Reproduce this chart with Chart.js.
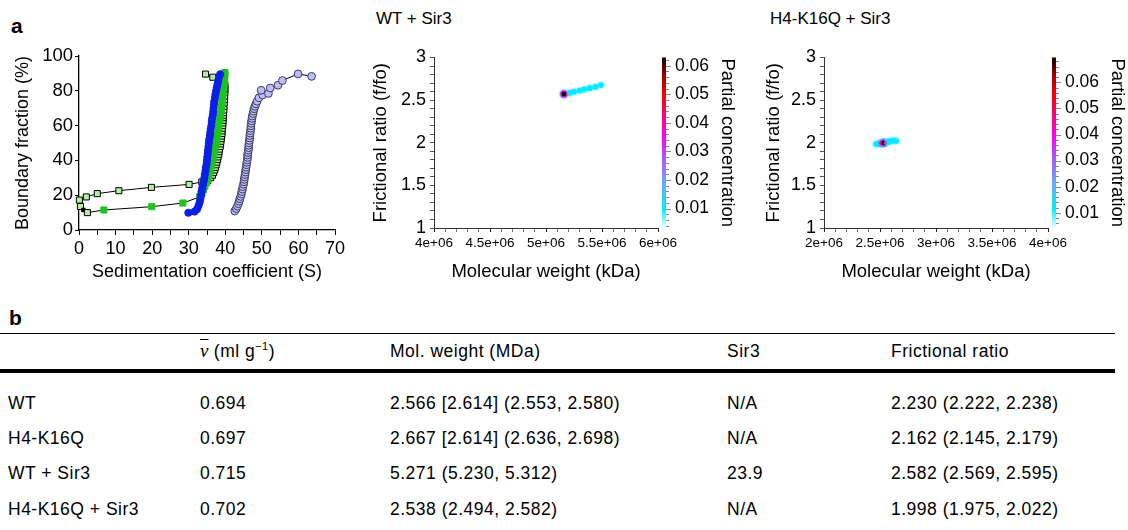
<!DOCTYPE html>
<html>
<head>
<meta charset="utf-8">
<script src="https://cdn.jsdelivr.net/npm/chart.js@4.4.1/dist/chart.umd.min.js"></script>
<style>
  html, body { margin: 0; padding: 0; background: #fff; }
  body { width: 1128px; height: 530px; position: relative; overflow: hidden;
         font-family: "Liberation Sans", Arial, sans-serif; color: #000; }
  .abs { position: absolute; white-space: nowrap; }
  canvas { position: absolute; }
  .panel { font-weight: bold; font-size: 21px; line-height: 24px; }
  .ptitle { font-size: 17px; line-height: 20px; }
  .cell { font-size: 17.5px; letter-spacing: 0.5px; line-height: 20px; }
  .vbar { font-family: "Liberation Serif", serif; font-style: italic; text-decoration: overline; font-size: 19px; letter-spacing: 0; }
  sup { font-size: 11px; line-height: 0; }
  .rule { position: absolute; left: 0; width: 1115px; background: #000; }
</style>
</head>
<body>
<div class="abs panel" style="left:11px;top:14px">a</div>
<div class="abs ptitle" style="left:376px;top:9px">WT + Sir3</div>
<div class="abs ptitle" style="left:770px;top:9px">H4-K16Q + Sir3</div>
<canvas id="vhs" width="350" height="250" style="left:0;top:40px"></canvas>
<canvas id="wtSir3" width="390" height="260" style="left:360px;top:30px"></canvas>
<canvas id="k16qSir3" width="378" height="260" style="left:750px;top:30px"></canvas>
<div class="abs panel" style="left:9px;top:306px">b</div>
<div class="rule" style="top:333px;height:1px"></div>
<div class="rule" style="top:369px;height:4px"></div>
<div id="table"></div>
<script>
// ---- panel a, van Holde-Weischet plot: sedimentation coefficient (S) vs boundary fraction (%)
const blueS = [29.9, 31.6, 32.3, 32.7, 33.0, 33.2, 33.4, 33.5, 33.7, 33.9, 34.1, 34.3, 34.4, 34.6, 34.7, 34.9, 35.0, 35.1, 35.2, 35.3, 35.4, 35.5, 35.6, 35.8, 35.9, 36.0, 36.2, 36.3, 36.4, 36.6, 36.7, 36.8, 36.9, 37.0, 37.2, 37.3, 37.5, 37.7, 37.9, 38.1, 38.3, 38.6];
const blueF = [9.9, 10.6, 12, 14, 16, 18, 20, 22, 24, 26, 28, 30, 32, 34, 36, 38, 40, 42, 44, 46, 48, 50, 52, 54, 56, 58, 60, 62, 64, 66, 68, 70, 72, 74, 76, 78, 80, 82, 84, 86, 88, 89.5];

const greenS = [0.4, 1.2, 2.3, 6.8, 19.9, 28.4, 33.0, 33.6, 34.0, 34.4, 34.8, 35.1, 35.4, 35.7, 35.9, 36.2, 36.4, 36.6, 36.8, 37.0, 37.2, 37.4, 37.6, 37.7, 37.9, 38.0, 38.2, 38.3, 38.5, 38.6, 38.7, 38.9, 39.0, 39.1, 39.2, 39.3, 39.4, 39.5, 39.6, 39.7, 39.8, 39.9, 39.9];
const greenF = [13.5, 11.5, 10.0, 11.5, 13.4, 15.5, 19.0, 21, 23, 25, 27, 29, 31, 33, 35, 37, 39, 41, 43, 45, 47, 49, 51, 53, 55, 57, 59, 61, 63, 65, 67, 69, 71, 73, 75, 77, 79, 81, 83, 85, 87, 89, 90.5];

const openS = [0.1, 2.0, 5.0, 10.9, 19.8, 30.1, 33.6, 35.2, 36.0, 36.5, 36.8, 37.1, 37.3, 37.5, 37.7, 37.9, 38.0, 38.2, 38.3, 38.4, 38.6, 38.7, 38.8, 38.9, 39.0, 39.1, 39.1, 39.2, 39.3, 39.3, 39.4, 39.4, 39.5, 39.5, 39.6, 39.6, 39.7, 39.8, 39.8, 39.9, 39.9, 39.9, 39.8, 39.5, 38.5, 36.6, 34.6];
const openF = [17.2, 19.0, 20.9, 22.6, 24.5, 26.2, 27.6, 28.5, 30, 31.5, 33, 34.5, 36, 37.5, 39, 40.5, 42, 43.5, 45, 46.5, 48, 49.5, 51, 52.5, 54, 55.5, 57, 58.5, 60, 61.5, 63, 64.5, 66, 67.5, 69, 71, 73, 75, 77, 79, 81, 83, 85, 86.5, 87.5, 87.8, 89.6];

const lavS = [42.6, 43.0, 43.3, 43.6, 43.8, 44.0, 44.2, 44.4, 44.5, 44.7, 44.8, 45.0, 45.1, 45.2, 45.3, 45.4, 45.5, 45.6, 45.7, 45.8, 45.9, 46.0, 46.1, 46.1, 46.2, 46.3, 46.4, 46.4, 46.5, 46.6, 46.7, 46.7, 46.8, 46.9, 47.0, 47.0, 47.1, 47.2, 47.3, 47.4, 47.6, 47.7, 47.9, 48.1, 48.4, 48.7, 49.2, 50.2, 49.8, 51.8, 52.3, 54.4, 55.6, 59.9, 63.6];
const lavF = [10.9, 12.3, 13.7, 15.1, 16.5, 17.9, 19.3, 20.7, 22.1, 23.5, 24.9, 26.3, 27.7, 29.1, 30.5, 31.9, 33.3, 34.7, 36.1, 37.5, 38.9, 40.3, 41.7, 43.1, 44.5, 45.9, 47.3, 48.7, 50.1, 51.5, 52.9, 54.3, 55.7, 57.1, 58.5, 59.9, 61.3, 62.7, 64.1, 65.5, 66.9, 68.3, 69.7, 71.1, 72.5, 74.0, 76.0, 77.6, 80.3, 78.5, 81.6, 83.2, 85.9, 89.7, 88.3];

// ---- panel a, 2DSA distributions: molecular weight, frictional ratio, partial concentration
const wtSir3Mw = [5.16e6, 5.21e6, 5.25e6, 5.30e6, 5.34e6, 5.39e6, 5.44e6, 5.49e6];
const wtSir3Ff0 = [2.571, 2.585, 2.598, 2.612, 2.625, 2.640, 2.655, 2.676];
const wtSir3Conc = [0.0629, 0.011, 0.010, 0.011, 0.010, 0.011, 0.010, 0.011];

const k16qSir3Mw = [2.465e6, 2.49e6, 2.51e6, 2.53e6, 2.55e6, 2.575e6, 2.60e6, 2.625e6, 2.645e6];
const k16qSir3Ff0 = [1.985, 1.988, 1.995, 1.998, 2.000, 2.012, 2.022, 2.025, 2.020];
const k16qSir3Conc = [0.009, 0.020, 0.045, 0.0695, 0.030, 0.014, 0.011, 0.010, 0.009];

// ---- panel b, table
const tableHeaders = ['', 'VBAR', 'Mol. weight (MDa)', 'Sir3', 'Frictional ratio'];
const samples = ['WT', 'H4-K16Q', 'WT + Sir3', 'H4-K16Q + Sir3'];
const vbar = ['0.694', '0.697', '0.715', '0.702'];
const molWeight = ['2.566 [2.614] (2.553, 2.580)', '2.667 [2.614] (2.636, 2.698)', '5.271 (5.230, 5.312)', '2.538 (2.494, 2.582)'];
const sir3 = ['N/A', 'N/A', '23.9', 'N/A'];
const fricRatio = ['2.230 (2.222, 2.238)', '2.162 (2.145, 2.179)', '2.582 (2.569, 2.595)', '1.998 (1.975, 2.022)'];

Chart.defaults.font.family = '"Liberation Sans", Arial, sans-serif';
Chart.defaults.color = '#000';
Chart.defaults.animation = false;

const xy = (xs, ys) => xs.map((x, i) => ({ x, y: ys[i] }));

const noPlugins = { legend: { display: false }, tooltip: { enabled: false } };

// colour map of the concentration bars, stops are fractions of the bar range
const cmapStops = [[0, '#eaffff'], [0.11, '#00eeff'], [0.28, '#6fa2ff'], [0.42, '#b052ff'], [0.53, '#ff00ff'],
  [0.64, '#ff0090'], [0.78, '#ff0000'], [0.9, '#a00000'], [1, '#000000']];

function hexRgb(h) {
  const n = parseInt(h.slice(1), 16);
  return [(n >> 16) & 255, (n >> 8) & 255, n & 255];
}

function cmap(t) {
  t = Math.max(0, Math.min(1, t));
  for (let i = 1; i < cmapStops.length; i++) {
    const [t1, c1] = cmapStops[i];
    if (t <= t1) {
      const [t0, c0] = cmapStops[i - 1];
      const f = (t - t0) / (t1 - t0);
      const a = hexRgb(c0), b = hexRgb(c1);
      return 'rgb(' + a.map((v, k) => Math.round(v + (b[k] - v) * f)).join(',') + ')';
    }
  }
  return '#000';
}

// gradient strip + small ticks next to the "cb" axis
const colorbarPlugin = {
  id: 'colorbar',
  afterDraw(chart) {
    const s = chart.scales.cb;
    if (!s) return;
    const ctx = chart.ctx;
    const top = s.getPixelForValue(s.max);
    const bottom = s.getPixelForValue(s.min);
    const x0 = chart.chartArea.right + 4;
    const g = ctx.createLinearGradient(0, bottom, 0, top);
    cmapStops.forEach(([t, c]) => g.addColorStop(t, c));
    ctx.save();
    ctx.fillStyle = g;
    ctx.fillRect(x0, top, 4, bottom - top);
    ctx.strokeStyle = '#888';
    ctx.lineWidth = 1;
    for (let k = Math.ceil(s.min / 0.002); k * 0.002 <= s.max; k++) {
      const y = Math.round(s.getPixelForValue(k * 0.002)) + 0.5;
      ctx.beginPath();
      ctx.moveTo(x0 + 4, y);
      ctx.lineTo(x0 + (k % 5 === 0 ? 9 : 7), y);
      ctx.stroke();
    }
    ctx.restore();
  },
};

new Chart(document.getElementById('vhs'), {
  type: 'scatter',
  data: {
    datasets: [
      { data: xy(blueS, blueF), pointStyle: 'circle', pointRadius: 3.6, pointBackgroundColor: '#0b1fe6',
        pointBorderColor: '#0b1fe6', pointBorderWidth: 1, showLine: true, borderColor: '#000', borderWidth: 1 },
      { data: xy(greenS, greenF), pointStyle: 'rect',
        pointBackgroundColor: (c) => (c.dataIndex < 3 && c.dataIndex !== 1 ? '#b4eea6' : c.dataIndex === 1 ? '#000' : '#1ec41e'),
        pointBorderColor: (c) => (c.dataIndex < 3 ? '#000' : '#1ec41e'), pointBorderWidth: 1,
        pointRadius: (c) => (c.dataIndex === 1 ? 2.5 : 4.3),
        showLine: true, borderColor: '#000', borderWidth: 1 },
      { data: xy(openS, openF), pointStyle: 'rect', pointRadius: 4.3, pointBackgroundColor: '#b4eea6',
        pointBorderColor: '#000', pointBorderWidth: 1, showLine: true, borderColor: '#000', borderWidth: 1 },
      { data: xy(lavS, lavF), pointStyle: 'circle', pointRadius: 3.9, pointBackgroundColor: '#bdbdf0',
        pointBorderColor: '#3a3a66', pointBorderWidth: 1, showLine: true, borderColor: '#000', borderWidth: 1 },
    ],
  },
  options: {
    responsive: false,
    clip: false,
    layout: { padding: { left: 0, top: 16, right: 15, bottom: 0 } },
    plugins: noPlugins,
    scales: {
      x: {
        type: 'linear', min: 0, max: 70,
        afterFit: (s) => { s.height = 60; },
        grid: { drawOnChartArea: false, tickLength: 5, color: '#000' },
        border: { color: '#000', width: 1.3 },
        ticks: { stepSize: 5, autoSkip: false, maxRotation: 0, padding: 3, font: { size: 18 },
          callback: (v) => (v % 10 === 0 ? v : '') },
        title: { display: true, text: 'Sedimentation coefficient (S)', font: { size: 18 }, padding: { top: 0, bottom: 7 } },
      },
      y: {
        type: 'linear', min: 0, max: 100,
        afterFit: (s) => { s.width = 79; },
        grid: { drawOnChartArea: false, tickLength: 4, color: '#000' },
        border: { color: '#000', width: 1.3 },
        ticks: { stepSize: 20, autoSkip: false, padding: 2, font: { size: 18.5 } },
        title: { display: true, text: 'Boundary fraction (%)', font: { size: 18 }, padding: { top: 12, bottom: 0 } },
      },
    },
  },
});

function heatMap(id, xs, ys, cs, xMin, xMax, cbMin, cbMax, yTitlePad, cbWidth, cbTitlePad) {
  const pts = xs.map((x, i) => ({ x, y: ys[i], c: cs[i] }));
  const span = cbMax - cbMin;
  const cyan = cbMin + 0.12 * span;
  const ring = (f) => (c) => cmap((Math.max(c.raw.c * f, cyan) - cbMin) / span);
  // radius grows a little with the concentration of the cell
  const size = (base, k) => (c) => base + k * (c.raw.c - cbMin) / span;
  const layer = (radius, color) => ({ data: pts, pointRadius: radius, pointBackgroundColor: color, pointBorderWidth: 0, showLine: false });
  const mwLabel = (v) => {
    const m = v / 1e6;
    return Math.abs(m * 2 - Math.round(m * 2)) < 1e-6 ? +m.toFixed(1) + 'e+06' : '';
  };
  new Chart(document.getElementById(id), {
    type: 'scatter',
    data: {
      datasets: [
        layer(size(1.2, 1), ring(1)),
        layer(size(1.9, 1.6), ring(0.6)),
        layer(size(2.7, 1.6), ring(0.35)),
        layer(size(3.9, 1.6), 'rgba(0,225,255,0.28)'),
      ],
    },
    options: {
      responsive: false,
      clip: false,
      layout: { padding: { left: 0, top: 13, right: 0, bottom: 0 } },
      plugins: noPlugins,
      scales: {
        x: {
          type: 'linear', min: xMin, max: xMax,
          afterFit: (s) => { s.height = 62; },
          grid: { drawOnChartArea: false, tickLength: 4, color: (c) => (mwLabel(c.tick.value) ? '#222' : '#777') },
          border: { color: '#333', width: 1 },
          ticks: { stepSize: 1e5, autoSkip: false, maxRotation: 0, padding: 3, font: { size: 13.5 }, callback: mwLabel },
          title: { display: true, text: 'Molecular weight (kDa)', font: { size: 18.5 }, padding: { top: 0, bottom: 7 } },
        },
        y: {
          type: 'linear', min: 1, max: 3,
          afterFit: (s) => { s.width = 74; },
          grid: { drawOnChartArea: false, tickLength: 4, color: '#555' },
          border: { color: '#333', width: 1 },
          ticks: { stepSize: 0.1, autoSkip: false, padding: 4, font: { size: 18 },
            callback: (v) => (Math.abs(v * 2 - Math.round(v * 2)) < 1e-6 ? +v.toFixed(1) : '') },
          title: { display: true, text: 'Frictional ratio (f/fo)', font: { size: 18.5 }, padding: { top: yTitlePad, bottom: 0 } },
        },
        cb: {
          type: 'linear', position: 'right', min: cbMin, max: cbMax,
          afterFit: (s) => { s.width = cbWidth; },
          grid: { display: false, drawTicks: false },
          border: { display: false },
          ticks: { stepSize: 0.01, includeBounds: false, padding: 17, font: { size: 17.5 }, callback: (v) => v.toFixed(2) },
          title: { display: true, text: 'Partial concentration', font: { size: 18.5 }, padding: { top: cbTitlePad, bottom: 0 } },
        },
      },
    },
    plugins: [colorbarPlugin],
  });
}

heatMap('wtSir3', wtSir3Mw, wtSir3Ff0, wtSir3Conc, 4e6, 6e6, 0.0032, 0.0629, 10, 92, 12);
heatMap('k16qSir3', k16qSir3Mw, k16qSir3Ff0, k16qSir3Conc, 2e6, 4e6, 0.0042, 0.0695, 13, 80, 0);

// table
const colX = [8, 200, 390, 727, 891];
const headerY = 351;
const rowY = [403, 438, 473, 509];
const table = document.getElementById('table');

function cell(x, y, html) {
  const d = document.createElement('div');
  d.className = 'abs cell';
  d.style.left = x + 'px';
  d.style.top = (y - 10) + 'px';
  d.innerHTML = html;
  table.appendChild(d);
}

tableHeaders.forEach((h, j) => {
  if (h === 'VBAR') cell(colX[j], headerY, '<span class="vbar">v</span> (ml g<sup>\u22121</sup>)');
  else if (h) cell(colX[j], headerY, h);
});
samples.forEach((s, i) => {
  [s, vbar[i], molWeight[i], sir3[i], fricRatio[i]].forEach((t, j) => cell(colX[j], rowY[i], t));
});
</script>
</body>
</html>
